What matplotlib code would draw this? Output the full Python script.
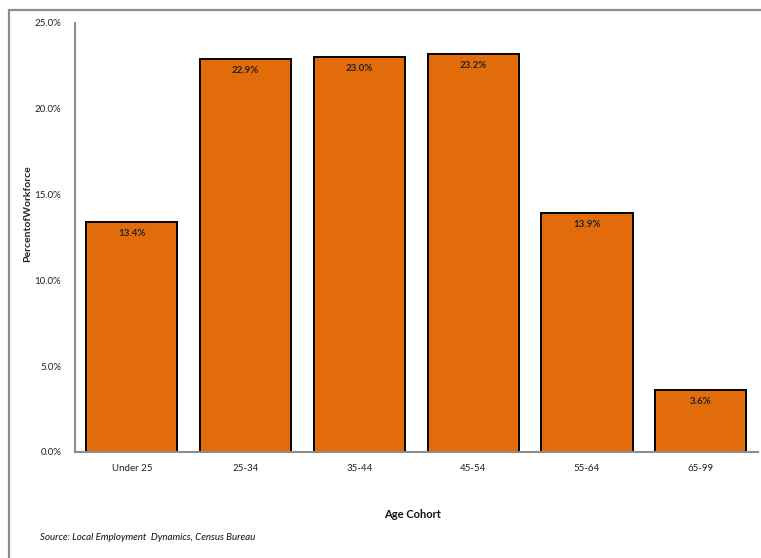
import matplotlib.pyplot as plt
import matplotlib.patches as mpatches
from matplotlib.ticker import PercentFormatter

cohorts = ['Under 25', '25-34', '35-44', '45-54', '55-64', '65-99']
shares = [13.4, 22.9, 23.0, 23.2, 13.9, 3.6]
yticks = [0, 5, 10, 15, 20, 25]

ORANGE = '#E36C0A'
GREY = '#8C8C8C'
FONT = ['Lato', 'DejaVu Sans']
plt.rcParams['font.family'] = FONT

fig = plt.figure(figsize=(7.61, 5.58), dpi=100, facecolor='white')
ax = fig.add_axes([0.0986, 0.19, 0.897, 0.769])

x = range(len(cohorts))
bars = ax.bar(x, shares, width=0.8, color=ORANGE, edgecolor='black', linewidth=1.4)

for b, v in zip(bars, shares):
    ax.text(b.get_x() + b.get_width() / 2, v - 0.4, f'{v:.1f}%',
            ha='center', va='top', fontsize=7, fontweight='bold', color='#222222')

ax.set_xlim(-0.5, len(cohorts) - 0.5)
ax.set_ylim(0, 25)
ax.set_yticks(yticks)
ax.yaxis.set_major_formatter(PercentFormatter(decimals=1))
ax.set_xticks(list(x))
ax.set_xticklabels(cohorts)
ax.tick_params(axis='both', length=0, labelsize=7, colors='#222222')
ax.tick_params(axis='x', pad=9)
ax.tick_params(axis='y', pad=10)

for s in ['top', 'right']:
    ax.spines[s].set_visible(False)
for s in ['left', 'bottom']:
    ax.spines[s].set_color(GREY)
    ax.spines[s].set_linewidth(1.5)

# y label: compressed, rotated, no word spaces (as in the source export)
fig.text(28 / 761, 1 - 214 / 558, 'PercentofWorkforce', rotation=90,
         ha='center', va='center', fontsize=7.5, fontweight='bold', color='#222222')

fig.text(413 / 761, 1 - 515 / 558, 'Age Cohort', ha='center', va='center',
         fontsize=8, fontweight='bold', color='#111111')
fig.text(40 / 761, 1 - 538 / 558, 'Source: Local Employment  Dynamics, Census Bureau',
         ha='left', va='center', fontsize=7, style='italic', color='#111111')

# outer chart border
fig.add_artist(mpatches.Rectangle((9 / 761, -0.02), 1.0, 1 - 10 / 558 + 0.02,
                                  transform=fig.transFigure, fill=False,
                                  edgecolor=GREY, linewidth=1.6))

fig.savefig('out.png', dpi=100, facecolor='white')
